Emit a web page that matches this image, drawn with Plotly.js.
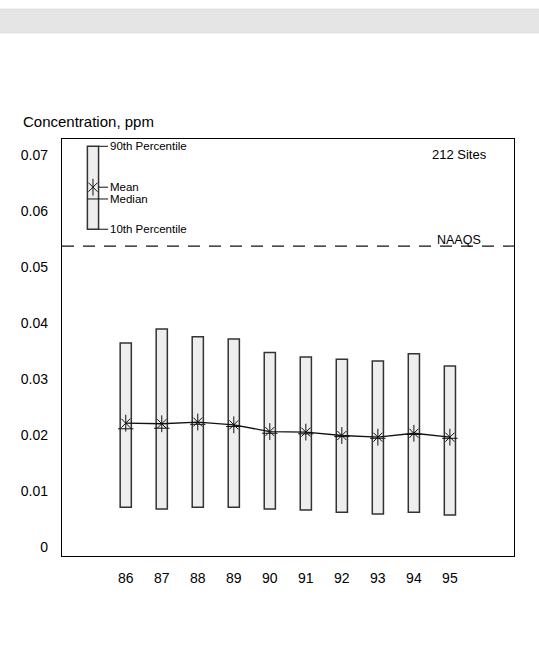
<!DOCTYPE html>
<html>
<head>
<meta charset="utf-8">
<script src="https://cdn.plot.ly/plotly-3.0.1.min.js"></script>
<style>
  html, body { margin: 0; padding: 0; background: #ffffff; }
  #chart { width: 539px; height: 652px; }
</style>
</head>
<body>
<div id="chart"></div>
<script>
// NO2 annual mean concentrations, 212 sites, 1986-1995
const years = [86, 87, 88, 89, 90, 91, 92, 93, 94, 95];
const yearLabels = ['86', '87', '88', '89', '90', '91', '92', '93', '94', '95'];
const p90 = [0.0364, 0.0389, 0.0375, 0.0371, 0.0347, 0.0339, 0.0335, 0.0332, 0.0345, 0.0323];
const p10 = [0.0071, 0.0068, 0.0071, 0.0071, 0.0068, 0.0066, 0.0062, 0.0059, 0.0062, 0.0057];
const means = [0.0221, 0.0220, 0.0223, 0.0218, 0.0206, 0.0205, 0.0199, 0.0196, 0.0203, 0.0196];
const medians = [0.0211, 0.0212, 0.0219, 0.0215, 0.0203, 0.0202, 0.0197, 0.0194, 0.0201, 0.0194];
const naaqs = 0.0537;
const yTicks = [0, 0.01, 0.02, 0.03, 0.04, 0.05, 0.06, 0.07];
const yTickLabels = ['0', '0.01', '0.02', '0.03', '0.04', '0.05', '0.06', '0.07'];

// Key (explanation box) drawn in the upper-left corner of the plot
const keyYear = 85.09;
const keyLevels = { p90: 0.0715, mean: 0.0642, median: 0.0621, p10: 0.0567 };
const keyLabels = { p90: '90th Percentile', mean: 'Mean', median: 'Median', p10: '10th Percentile' };

const FONT = 'Liberation Sans, Arial, sans-serif';
const INK = '#111111';
const BAR_W = 0.31;
const boxFill = '#eeeeee';
const boxLine = '#333333';

// open symbols take their stroke colour from marker.color
const asteriskX = { symbol: 'x-thin-open', size: 9, color: INK, line: { color: INK, width: 1 } };
const asteriskV = { symbol: 'line-ns-open', size: 12, color: INK, line: { color: INK, width: 1 } };

const traces = [];

// 10th-90th percentile boxes
traces.push({
  type: 'bar',
  x: years,
  base: p10,
  y: p90.map((v, i) => v - p10[i]),
  width: BAR_W,
  marker: { color: boxFill, line: { color: boxLine, width: 1.5 } },
  hoverinfo: 'skip'
});

// median ticks across each box
traces.push({
  type: 'scatter', mode: 'markers',
  x: years, y: medians,
  marker: { symbol: 'line-ew-open', size: 11, color: INK, line: { color: INK, width: 1 } },
  hoverinfo: 'skip'
});

// mean line with asterisk markers (x + vertical stroke)
traces.push({
  type: 'scatter', mode: 'lines+markers',
  x: years, y: means,
  line: { color: INK, width: 1.3 },
  marker: asteriskX,
  hoverinfo: 'skip'
});
traces.push({
  type: 'scatter', mode: 'markers',
  x: years, y: means,
  marker: asteriskV,
  hoverinfo: 'skip'
});

// key: mean asterisk
traces.push({
  type: 'scatter', mode: 'markers',
  x: [keyYear], y: [keyLevels.mean],
  marker: asteriskX,
  hoverinfo: 'skip'
});
traces.push({
  type: 'scatter', mode: 'markers',
  x: [keyYear], y: [keyLevels.mean],
  marker: asteriskV,
  hoverinfo: 'skip'
});

const shapes = [
  // grey banner across the top of the page
  { type: 'rect', xref: 'paper', yref: 'paper', x0: -0.14, x1: 1.06, y0: 1.2542, y1: 1.3118,
    fillcolor: '#e5e5e5', line: { width: 0.6, color: '#d6d6d6' }, layer: 'below' },
  // NAAQS dashed reference line
  { type: 'line', xref: 'paper', yref: 'y', x0: 0, x1: 1, y0: naaqs, y1: naaqs,
    line: { color: INK, width: 1.2, dash: '12px,9px' } },
  // key box
  { type: 'rect', xref: 'x', yref: 'y', x0: keyYear - BAR_W / 2, x1: keyYear + BAR_W / 2,
    y0: keyLevels.p10, y1: keyLevels.p90, fillcolor: boxFill, line: { color: boxLine, width: 1.5 }, layer: 'below' },
  { type: 'line', xref: 'x', yref: 'y', x0: keyYear - BAR_W / 2, x1: keyYear + BAR_W / 2,
    y0: keyLevels.median, y1: keyLevels.median, line: { color: INK, width: 1 } }
];

const annotations = [];
['p90', 'mean', 'median', 'p10'].forEach(k => {
  shapes.push({ type: 'line', xref: 'x', yref: 'y', x0: keyYear + BAR_W / 2, x1: keyYear + 0.42,
    y0: keyLevels[k], y1: keyLevels[k], line: { color: INK, width: 1 } });
  annotations.push({ xref: 'x', yref: 'y', x: keyYear + 0.43, y: keyLevels[k], text: keyLabels[k],
    showarrow: false, xanchor: 'left', yanchor: 'middle', font: { family: FONT, size: 11.5, color: '#000' } });
});

annotations.push(
  { xref: 'paper', yref: 'paper', x: -0.0914, y: 1.0415, text: 'Concentration, ppm', showarrow: false,
    xanchor: 'left', yanchor: 'middle', font: { family: FONT, size: 15, color: '#000' } },
  { xref: 'paper', yref: 'paper', x: 0.8805, y: 0.964, text: '212 Sites', showarrow: false,
    xanchor: 'center', yanchor: 'middle', font: { family: FONT, size: 13, color: '#000' } },
  { xref: 'paper', yref: 'y', x: 0.878, y: naaqs, text: 'NAAQS', showarrow: false,
    xanchor: 'center', yanchor: 'bottom', yshift: -3, font: { family: FONT, size: 12.5, color: '#000' } }
);

const layout = {
  width: 539, height: 652,
  margin: { l: 62, r: 25, t: 139, b: 96 },
  paper_bgcolor: '#ffffff', plot_bgcolor: '#ffffff',
  showlegend: false,
  bargap: 0,
  font: { family: FONT, size: 14, color: '#000' },
  xaxis: {
    range: [84.23, 96.78],
    tickmode: 'array', tickvals: years, ticktext: yearLabels,
    ticks: '', showgrid: false, zeroline: false,
    showline: true, mirror: true, linecolor: '#000', linewidth: 1.2,
    ticklabelstandoff: 9,
    tickfont: { family: FONT, size: 14, color: '#000' }
  },
  yaxis: {
    range: [-0.0016, 0.0728],
    tickmode: 'array', tickvals: yTicks, ticktext: yTickLabels,
    ticks: '', showgrid: false, zeroline: false,
    showline: true, mirror: true, linecolor: '#000', linewidth: 1.2,
    ticklabelstandoff: 10,
    tickfont: { family: FONT, size: 14, color: '#000' }
  },
  shapes: shapes,
  annotations: annotations
};

Plotly.newPlot('chart', traces, layout, { staticPlot: true, displayModeBar: false });
</script>
</body>
</html>
